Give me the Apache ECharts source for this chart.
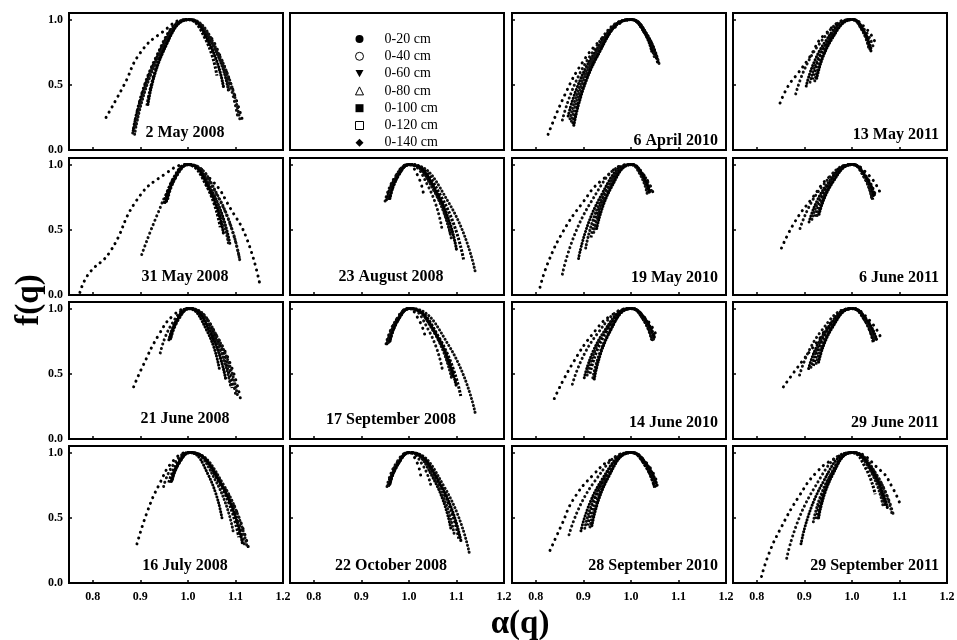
<!DOCTYPE html>
<html>
<head>
<meta charset="utf-8">
<title>Multifractal spectra by depth</title>
<script src="https://cdn.jsdelivr.net/npm/echarts@6/dist/echarts.min.js"></script>
<style>
  html, body { margin: 0; padding: 0; background: #fff; }
  #chart { width: 957px; height: 640px; }
</style>
</head>
<body>
<div id="chart"></div>
<script>
// soil depth layers, one spectrum per layer in every panel
const depths = ['0-20 cm', '0-40 cm', '0-60 cm', '0-80 cm', '0-100 cm', '0-120 cm', '0-140 cm']
const xTicks = [0.8, 0.9, 1.0, 1.1]
const xLabels = [0.8, 0.9, 1.0, 1.1, 1.2]
const yTicks = [0.5, 1.0]
const yLabels = [0.0, 0.5, 1.0]

// [alpha(q), f(q)] points, one list per depth layer
const may02_2008 = [
  [[0.828, 0.25], [0.866, 0.5], [0.899, 0.74], [0.945, 0.9], [0.997, 1], [1.033, 0.93], [1.069, 0.71], [1.117, 0.2]],
  [[0.884, 0.13], [0.93, 0.69], [1.0, 1], [1.063, 0.73], [1.105, 0.25]],
  [[0.885, 0.15], [0.932, 0.69], [1.002, 1], [1.052, 0.81], [1.085, 0.46]],
  [[0.888, 0.12], [0.934, 0.68], [1.003, 1], [1.067, 0.72], [1.11, 0.22]],
  [[0.914, 0.34], [0.948, 0.76], [1.0, 1], [1.037, 0.85], [1.061, 0.57]],
  [[0.89, 0.18], [0.936, 0.7], [1.004, 1], [1.054, 0.8], [1.088, 0.44]],
  [[0.916, 0.35], [0.95, 0.77], [1.002, 1], [1.046, 0.81], [1.075, 0.48]]
]
const apr06_2010 = [
  [[0.826, 0.12], [0.862, 0.43], [0.898, 0.67], [0.935, 0.84], [0.963, 0.93], [0.997, 1], [1.03, 0.89], [1.052, 0.7]],
  [[0.856, 0.23], [0.914, 0.72], [1.0, 1], [1.033, 0.88], [1.055, 0.68]],
  [[0.868, 0.26], [0.921, 0.73], [1.0, 1], [1.035, 0.88], [1.058, 0.66]],
  [[0.872, 0.24], [0.924, 0.73], [1.001, 1], [1.036, 0.87], [1.06, 0.65]],
  [[0.878, 0.2], [0.927, 0.71], [1.0, 1], [1.034, 0.88], [1.057, 0.66]],
  [[0.875, 0.22], [0.925, 0.72], [0.999, 1], [1.03, 0.89], [1.05, 0.7]],
  [[0.88, 0.19], [0.928, 0.71], [1.0, 1], [1.027, 0.91], [1.045, 0.74]]
]
const may13_2011 = [
  [[0.849, 0.36], [0.866, 0.49], [0.887, 0.59], [0.909, 0.7], [0.944, 0.89], [0.997, 1], [1.03, 0.93], [1.052, 0.8]],
  [[0.882, 0.43], [0.929, 0.8], [1.0, 1], [1.027, 0.92], [1.045, 0.79]],
  [[0.904, 0.49], [0.942, 0.82], [1.0, 1], [1.024, 0.92], [1.04, 0.78]],
  [[0.912, 0.52], [0.948, 0.83], [1.001, 1], [1.023, 0.92], [1.038, 0.77]],
  [[0.917, 0.54], [0.95, 0.83], [1.0, 1], [1.022, 0.92], [1.036, 0.78]],
  [[0.922, 0.53], [0.953, 0.83], [1.0, 1], [1.021, 0.92], [1.035, 0.79]],
  [[0.926, 0.55], [0.956, 0.84], [1.002, 1], [1.025, 0.91], [1.04, 0.76]]
]
const may31_2008 = [
  [[0.773, 0.02], [0.791, 0.16], [0.836, 0.33], [0.893, 0.73], [0.949, 0.92], [1.0, 1], [1.05, 0.88], [1.09, 0.66], [1.124, 0.43], [1.152, 0.07]],
  [[0.903, 0.31], [0.935, 0.61], [0.965, 0.84], [1.0, 1], [1.065, 0.74], [1.109, 0.27]],
  [[0.952, 0.71], [0.971, 0.9], [1.0, 1], [1.053, 0.78], [1.089, 0.38]],
  [[0.955, 0.72], [0.974, 0.9], [1.002, 1], [1.066, 0.74], [1.109, 0.27]],
  [[0.95, 0.7], [0.969, 0.89], [0.998, 1], [1.04, 0.83], [1.068, 0.52]],
  [[0.958, 0.74], [0.976, 0.91], [1.002, 1], [1.052, 0.78], [1.085, 0.4]],
  [[0.955, 0.72], [0.973, 0.9], [1.001, 1], [1.045, 0.81], [1.075, 0.47]]
]
const aug23_2008 = [
  [[0.955, 0.75], [0.972, 0.91], [0.998, 1], [1.018, 0.92], [1.031, 0.77]],
  [[0.95, 0.72], [0.97, 0.9], [1.0, 1], [1.041, 0.83], [1.069, 0.52]],
  [[0.953, 0.73], [0.972, 0.9], [1.0, 1], [1.052, 0.81], [1.087, 0.47]],
  [[0.957, 0.74], [0.975, 0.91], [1.003, 1], [1.085, 0.7], [1.14, 0.17]],
  [[0.96, 0.75], [0.977, 0.91], [1.002, 1], [1.07, 0.74], [1.115, 0.27]],
  [[0.958, 0.74], [0.975, 0.91], [1.001, 1], [1.054, 0.79], [1.09, 0.42]],
  [[0.96, 0.74], [0.977, 0.91], [1.002, 1], [1.061, 0.77], [1.1, 0.35]]
]
const may19_2010 = [
  [[0.809, 0.06], [0.826, 0.25], [0.858, 0.49], [0.897, 0.7], [0.939, 0.88], [0.997, 1], [1.027, 0.92], [1.047, 0.78]],
  [[0.856, 0.16], [0.914, 0.7], [1.0, 1], [1.027, 0.92], [1.045, 0.78]],
  [[0.89, 0.28], [0.934, 0.74], [1.0, 1], [1.024, 0.92], [1.04, 0.79]],
  [[0.905, 0.36], [0.943, 0.77], [1.001, 1], [1.023, 0.92], [1.038, 0.79]],
  [[0.916, 0.44], [0.95, 0.8], [1.0, 1], [1.022, 0.92], [1.036, 0.78]],
  [[0.922, 0.48], [0.953, 0.81], [1.0, 1], [1.02, 0.92], [1.034, 0.78]],
  [[0.928, 0.51], [0.958, 0.82], [1.002, 1], [1.025, 0.92], [1.04, 0.77]]
]
const jun06_2011 = [
  [[0.852, 0.36], [0.88, 0.56], [0.916, 0.74], [0.954, 0.91], [0.998, 1], [1.035, 0.92], [1.06, 0.78]],
  [[0.891, 0.51], [0.935, 0.82], [1.0, 1], [1.03, 0.91], [1.05, 0.76]],
  [[0.91, 0.56], [0.946, 0.84], [1.0, 1], [1.027, 0.91], [1.045, 0.75]],
  [[0.916, 0.58], [0.95, 0.85], [1.001, 1], [1.026, 0.91], [1.042, 0.74]],
  [[0.923, 0.6], [0.954, 0.86], [1.0, 1], [1.026, 0.9], [1.044, 0.73]],
  [[0.927, 0.61], [0.957, 0.86], [1.002, 1], [1.026, 0.91], [1.042, 0.74]],
  [[0.931, 0.62], [0.959, 0.86], [1.001, 1], [1.029, 0.91], [1.048, 0.76]]
]
const jun21_2008 = [
  [[0.886, 0.4], [0.904, 0.55], [0.939, 0.8], [0.97, 0.95], [1.0, 1], [1.067, 0.75], [1.111, 0.3]],
  [[0.942, 0.66], [0.966, 0.88], [1.002, 1], [1.061, 0.77], [1.1, 0.35]],
  [[0.96, 0.76], [0.976, 0.91], [1.0, 1], [1.04, 0.83], [1.066, 0.54]],
  [[0.963, 0.77], [0.979, 0.92], [1.004, 1], [1.065, 0.76], [1.105, 0.32]],
  [[0.962, 0.76], [0.978, 0.91], [1.003, 1], [1.057, 0.78], [1.093, 0.39]],
  [[0.965, 0.78], [0.981, 0.92], [1.004, 1], [1.056, 0.78], [1.09, 0.4]],
  [[0.963, 0.77], [0.979, 0.92], [1.003, 1], [1.049, 0.8], [1.08, 0.45]]
]
const sep17_2008 = [
  [[0.955, 0.74], [0.973, 0.91], [0.999, 1], [1.02, 0.92], [1.034, 0.79]],
  [[0.952, 0.73], [0.971, 0.9], [1.0, 1], [1.042, 0.83], [1.07, 0.54]],
  [[0.954, 0.73], [0.973, 0.9], [1.001, 1], [1.055, 0.81], [1.091, 0.47]],
  [[0.958, 0.75], [0.976, 0.91], [1.003, 1], [1.085, 0.71], [1.14, 0.19]],
  [[0.96, 0.75], [0.977, 0.91], [1.002, 1], [1.066, 0.76], [1.109, 0.33]],
  [[0.957, 0.74], [0.975, 0.91], [1.001, 1], [1.054, 0.81], [1.09, 0.46]],
  [[0.96, 0.75], [0.977, 0.91], [1.002, 1], [1.061, 0.78], [1.1, 0.4]]
]
const jun14_2010 = [
  [[0.839, 0.31], [0.876, 0.57], [0.925, 0.83], [0.96, 0.95], [0.998, 1], [1.032, 0.92], [1.055, 0.78]],
  [[0.877, 0.42], [0.926, 0.79], [1.0, 1], [1.03, 0.92], [1.05, 0.77]],
  [[0.902, 0.47], [0.941, 0.81], [1.0, 1], [1.027, 0.91], [1.045, 0.76]],
  [[0.908, 0.49], [0.945, 0.82], [1.001, 1], [1.027, 0.91], [1.044, 0.75]],
  [[0.914, 0.5], [0.948, 0.82], [1.0, 1], [1.028, 0.91], [1.046, 0.76]],
  [[0.92, 0.47], [0.953, 0.81], [1.002, 1], [1.03, 0.91], [1.048, 0.76]],
  [[0.923, 0.46], [0.954, 0.81], [1.001, 1], [1.03, 0.92], [1.05, 0.77]]
]
const jun29_2011 = [
  [[0.856, 0.4], [0.888, 0.56], [0.926, 0.74], [0.961, 0.91], [0.999, 1], [1.037, 0.91], [1.063, 0.76]],
  [[0.89, 0.49], [0.934, 0.82], [1.0, 1], [1.03, 0.91], [1.05, 0.75]],
  [[0.909, 0.54], [0.945, 0.83], [1.0, 1], [1.027, 0.91], [1.045, 0.75]],
  [[0.914, 0.55], [0.949, 0.84], [1.001, 1], [1.029, 0.91], [1.047, 0.74]],
  [[0.919, 0.56], [0.951, 0.84], [1.0, 1], [1.027, 0.91], [1.045, 0.74]],
  [[0.925, 0.58], [0.956, 0.85], [1.002, 1], [1.03, 0.91], [1.048, 0.75]],
  [[0.93, 0.59], [0.958, 0.85], [1.001, 1], [1.032, 0.91], [1.052, 0.76]]
]
const jul16_2008 = [
  [[0.893, 0.3], [0.915, 0.55], [0.939, 0.75], [0.97, 0.94], [1.0, 1], [1.077, 0.73], [1.128, 0.26]],
  [[0.949, 0.74], [0.97, 0.91], [1.002, 1], [1.073, 0.74], [1.12, 0.28]],
  [[0.965, 0.78], [0.98, 0.92], [1.003, 1], [1.044, 0.82], [1.072, 0.49]],
  [[0.967, 0.79], [0.982, 0.92], [1.005, 1], [1.077, 0.74], [1.125, 0.27]],
  [[0.96, 0.77], [0.978, 0.92], [1.004, 1], [1.066, 0.77], [1.107, 0.35]],
  [[0.968, 0.8], [0.983, 0.93], [1.005, 1], [1.059, 0.78], [1.095, 0.4]],
  [[0.965, 0.78], [0.981, 0.92], [1.004, 1], [1.071, 0.75], [1.115, 0.3]]
]
const oct22_2008 = [
  [[0.956, 0.75], [0.973, 0.91], [0.999, 1], [1.015, 0.94], [1.025, 0.82]],
  [[0.954, 0.74], [0.972, 0.91], [1.0, 1], [1.028, 0.91], [1.046, 0.75]],
  [[0.957, 0.75], [0.975, 0.91], [1.001, 1], [1.053, 0.79], [1.088, 0.42]],
  [[0.958, 0.75], [0.976, 0.91], [1.003, 1], [1.077, 0.72], [1.127, 0.23]],
  [[0.96, 0.76], [0.977, 0.91], [1.002, 1], [1.064, 0.76], [1.105, 0.34]],
  [[0.958, 0.75], [0.975, 0.91], [1.001, 1], [1.057, 0.78], [1.095, 0.38]],
  [[0.96, 0.76], [0.977, 0.91], [1.002, 1], [1.067, 0.75], [1.11, 0.31]]
]
const sep28_2010 = [
  [[0.83, 0.25], [0.855, 0.45], [0.879, 0.64], [0.921, 0.83], [0.96, 0.95], [0.999, 1], [1.033, 0.92], [1.055, 0.77]],
  [[0.87, 0.37], [0.922, 0.77], [1.0, 1], [1.031, 0.91], [1.052, 0.75]],
  [[0.895, 0.4], [0.937, 0.78], [1.0, 1], [1.03, 0.9], [1.05, 0.73]],
  [[0.903, 0.42], [0.942, 0.79], [1.001, 1], [1.032, 0.91], [1.052, 0.74]],
  [[0.909, 0.44], [0.945, 0.8], [1.0, 1], [1.03, 0.9], [1.05, 0.73]],
  [[0.914, 0.43], [0.949, 0.8], [1.002, 1], [1.033, 0.91], [1.053, 0.76]],
  [[0.918, 0.44], [0.951, 0.8], [1.001, 1], [1.033, 0.91], [1.055, 0.75]]
]
const sep29_2011 = [
  [[0.81, 0.05], [0.825, 0.22], [0.849, 0.41], [0.888, 0.66], [0.926, 0.85], [0.962, 0.95], [1.0, 1], [1.061, 0.86], [1.084, 0.74], [1.102, 0.6]],
  [[0.863, 0.19], [0.918, 0.71], [1.0, 1], [1.053, 0.82], [1.088, 0.51]],
  [[0.893, 0.3], [0.936, 0.75], [1.0, 1], [1.042, 0.85], [1.07, 0.59]],
  [[0.919, 0.47], [0.952, 0.81], [1.002, 1], [1.052, 0.83], [1.085, 0.52]],
  [[0.925, 0.49], [0.955, 0.82], [1.0, 1], [1.029, 0.88], [1.049, 0.68]],
  [[0.928, 0.5], [0.957, 0.82], [1.001, 1], [1.039, 0.86], [1.065, 0.6]],
  [[0.93, 0.5], [0.958, 0.82], [1.001, 1], [1.045, 0.85], [1.075, 0.57]]
]

// row-major panel order, null = the legend box
const panelDates = [
  '2 May 2008', null, '6 April 2010', '13 May 2011',
  '31 May 2008', '23 August 2008', '19 May 2010', '6 June 2011',
  '21 June 2008', '17 September 2008', '14 June 2010', '29 June 2011',
  '16 July 2008', '22 October 2008', '28 September 2010', '29 September 2011'
]
const panelCurves = [
  may02_2008, null, apr06_2010, may13_2011,
  may31_2008, aug23_2008, may19_2010, jun06_2011,
  jun21_2008, sep17_2008, jun14_2010, jun29_2011,
  jul16_2008, oct22_2008, sep28_2010, sep29_2011
]

// layout
const colLeft = [69, 290, 512, 733]
const rowTop = [13, 158, 302, 446]
const panelW = 214
const panelH = 137
const titleLift = [17, 0, 9, 15, 18, 18, 17, 17, 20, 19, 16, 16, 17, 17, 17, 17]

const serif = '"Liberation Serif", "Times New Roman", serif'
const labelStyle = { fontFamily: serif, fontWeight: 'bold', fontSize: 12, color: '#000' }

// dotted strokes imitating the marker trails of each layer
const depthLine = [
  { width: 3, type: [0.1, 6], cap: 'round', color: '#000' },
  { width: 3, type: [0.1, 4.5], cap: 'round', color: '#111' },
  { width: 3, type: [0.1, 3], cap: 'round', color: '#000' },
  { width: 3, type: [0.1, 3.5], cap: 'round', color: '#111' },
  { width: 3, type: [2.5, 1.5], cap: 'butt', color: '#000' },
  { width: 3, type: [0.1, 3.5], cap: 'round', color: '#111' },
  { width: 3.2, type: [0.1, 2.8], cap: 'round', color: '#000' }
]
const legendIcon = ['circle', 'circle', 'path://M0,0L10,0L5,9Z', 'triangle', 'rect', 'rect', 'diamond']
const hollow = [false, true, false, true, false, true, false]

const grids = []
const xAxes = []
const yAxes = []
const series = []
const graphics = []

panelDates.forEach((date, i) => {
  const r = Math.floor(i / 4)
  const c = i % 4
  grids.push({
    left: colLeft[c], top: rowTop[r], width: panelW, height: panelH,
    show: true, borderColor: '#000', borderWidth: 2, backgroundColor: 'transparent',
    containLabel: false, outerBoundsMode: 'none'
  })
  const on = date !== null
  xAxes.push({
    gridIndex: i, type: 'value', min: 0.75, max: 1.2, show: on,
    axisLine: { show: false }, splitLine: { show: false },
    axisTick: { show: true, inside: true, length: 3, customValues: xTicks, lineStyle: { color: '#000', width: 1.5 } },
    axisLabel: Object.assign({ show: r === 3, customValues: xLabels, margin: 8, formatter: v => v.toFixed(1) }, labelStyle)
  })
  yAxes.push({
    gridIndex: i, type: 'value', min: 0, max: 1.05, show: on,
    axisLine: { show: false }, splitLine: { show: false },
    axisTick: { show: true, inside: true, length: 3, customValues: yTicks, lineStyle: { color: '#000', width: 1.5 } },
    axisLabel: Object.assign({ show: c === 0, customValues: yLabels, margin: 6, formatter: v => v.toFixed(1) }, labelStyle)
  })
  if (!on) return
  panelCurves[i].forEach((pts, k) => {
    series.push({
      type: 'line', name: depths[k], xAxisIndex: i, yAxisIndex: i,
      data: pts, smooth: 0.5, showSymbol: false, silent: true,
      itemStyle: { color: '#000' }, lineStyle: depthLine[k], z: 2 + k
    })
  })
  const bottom = rowTop[r] + panelH
  const right = c >= 2
  graphics.push({
    type: 'text',
    x: right ? colLeft[c] + panelW - 8 : (c === 0 ? 185 : 391),
    y: bottom - titleLift[i],
    style: {
      text: date, fill: '#000', font: 'bold 16px ' + serif,
      align: right ? 'right' : 'center', verticalAlign: 'middle',
      textAlign: right ? 'right' : 'center', textVerticalAlign: 'middle'
    }
  })
})

graphics.push({
  type: 'text', x: 29, y: 300, rotation: Math.PI / 2,
  style: { text: 'f(q)', fill: '#000', font: 'bold 33px ' + serif, align: 'center', verticalAlign: 'middle', textAlign: 'center', textVerticalAlign: 'middle' }
})
graphics.push({
  type: 'text', x: 520, y: 624,
  style: { text: 'α(q)', fill: '#000', font: 'bold 33px ' + serif, align: 'center', verticalAlign: 'middle', textAlign: 'center', textVerticalAlign: 'middle' }
})

const chart = echarts.init(document.getElementById('chart'), null, { renderer: 'canvas' })
chart.setOption({
  animation: false,
  backgroundColor: '#fff',
  grid: grids,
  xAxis: xAxes,
  yAxis: yAxes,
  legend: {
    left: 350, top: 27, orient: 'vertical',
    itemWidth: 8, itemHeight: 8, itemGap: 3.3, selectedMode: false,
    textStyle: { fontFamily: serif, fontSize: 14, color: '#000', padding: [0, 0, 0, 16] },
    data: depths.map((name, k) => ({
      name,
      icon: legendIcon[k],
      itemStyle: hollow[k] ? { color: '#fff', borderColor: '#000', borderWidth: 1 } : { color: '#000', borderWidth: 0 }
    }))
  },
  graphic: graphics,
  series: series
})
</script>
</body>
</html>
